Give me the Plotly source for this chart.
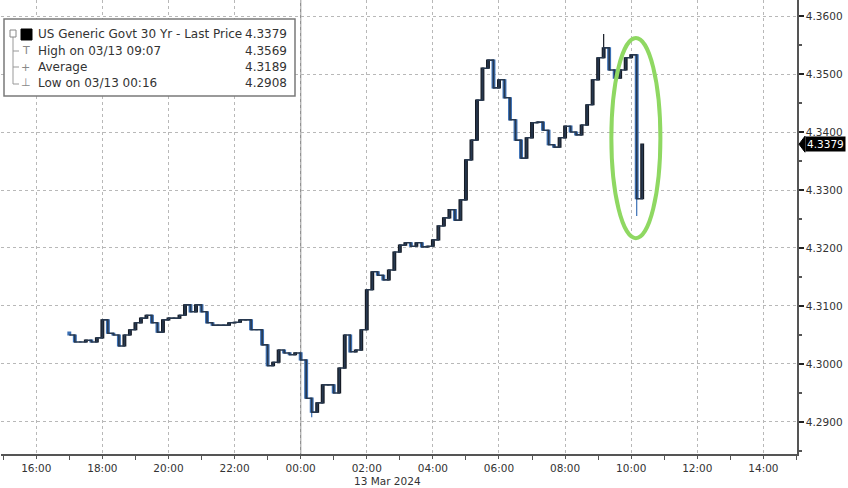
import pandas as pd
import plotly.graph_objects as go

# ---- data (10-minute bars, closing prices) ----
bar_start = "2024-03-12 17:00"
bar_end = "2024-03-13 10:20"
closes = [
    4.3050, 4.3038, 4.3038, 4.3041, 4.3038, 4.3045,
    4.3076, 4.3053, 4.3050, 4.3031, 4.3050, 4.3059,
    4.3071, 4.3079, 4.3084, 4.3071, 4.3055, 4.3076,
    4.3079, 4.3079, 4.3084, 4.3102, 4.3090, 4.3102,
    4.3090, 4.3071, 4.3067, 4.3067, 4.3067, 4.3071,
    4.3072, 4.3076, 4.3076, 4.3059, 4.3059, 4.3033,
    4.2997, 4.3003, 4.3024, 4.3019, 4.3016, 4.3019,
    4.3007, 4.2941, 4.2917, 4.2933, 4.2964, 4.2964,
    4.2950, 4.2993, 4.3050, 4.3021, 4.3024, 4.3059,
    4.3128, 4.3159, 4.3153, 4.3145, 4.3162, 4.3193,
    4.3205, 4.3209, 4.3203, 4.3209, 4.3202, 4.3203,
    4.3214, 4.3238, 4.3252, 4.3266, 4.3248, 4.3283,
    4.3352, 4.3386, 4.3455, 4.3510, 4.3524, 4.3476,
    4.3490, 4.3459, 4.3421, 4.3386, 4.3355, 4.3390,
    4.3416, 4.3417, 4.3403, 4.3378, 4.3374, 4.3390,
    4.3410, 4.3400, 4.3395, 4.3412, 4.3447, 4.3490,
    4.3528, 4.3545, 4.3507, 4.3493, 4.3507, 4.3528,
    4.3533, 4.3285, 4.3379,
]
first_open = 4.3055
extreme_times = ["2024-03-13 00:20", "2024-03-13 09:10", "2024-03-13 10:10"]
extreme_highs = [None, 4.3569, None]
extreme_lows = [4.2908, None, 4.3255]

legend_labels = ["US Generic Govt 30 Yr - Last Price", "High on 03/13 09:07", "Average", "Low on 03/13 00:16"]
legend_values = ["4.3379", "4.3569", "4.3189", "4.2908"]
last_price = 4.3379
date_label = "13 Mar 2024"

# ---- bars ----
times = pd.date_range(bar_start, bar_end, freq="10min")
assert len(times) == len(closes)
opens = [first_open] + closes[:-1]
highs = [max(o, c) for o, c in zip(opens, closes)]
lows = [min(o, c) for o, c in zip(opens, closes)]
for t, hi, lo in zip(extreme_times, extreme_highs, extreme_lows):
    i = list(times).index(pd.Timestamp(t))
    if hi is not None:
        highs[i] = hi
    if lo is not None:
        lows[i] = lo

# ---- layout helpers (pixel -> paper) ----
W, H = 848, 488
ML, MR, MT, MB = 1, 51, 0, 34
PW, PH = W - ML - MR, H - MT - MB


def pxx(x):
    return (x - ML) / PW


def pxy(y):
    return (H - MB - y) / PH


FONT = "DejaVu Sans"
TXT = "#333333"

fig = go.Figure()
# continuous trace (step from bar to bar)
fig.add_trace(go.Scatter(
    x=times, y=closes, mode="lines", line_shape="hv",
    line=dict(color="#27384f", width=1.6), showlegend=False, hoverinfo="skip",
))
fig.add_trace(go.Candlestick(
    x=times, open=opens, high=highs, low=lows, close=closes,
    increasing=dict(line=dict(color="#161c26", width=1.2), fillcolor="#161c26"),
    decreasing=dict(line=dict(color="#3b70b5", width=1.2), fillcolor="#3b70b5"),
    whiskerwidth=0, showlegend=False, hoverinfo="skip",
))

shapes = []
shapes.append(dict(type="line", xref="x", yref="paper", x0="2024-03-13 00:00", x1="2024-03-13 00:00",
                   y0=0, y1=1, line=dict(color="#8a8a8a", width=1.2), layer="below"))
shapes.append(dict(type="circle", xref="x", yref="y", x0="2024-03-13 09:24", x1="2024-03-13 10:53",
                   y0=4.3217, y1=4.3562, line=dict(color="#8fd862", width=4)))
shapes.append(dict(type="rect", xref="paper", yref="paper", x0=pxx(4), x1=pxx(295), y0=pxy(96), y1=pxy(19),
                   line=dict(color="#7a7a7a", width=1.5), fillcolor="white", layer="above"))
shapes.append(dict(type="line", xref="paper", yref="paper", x0=pxx(13), x1=pxx(13), y0=pxy(84), y1=pxy(33),
                   line=dict(color="#999999", width=1)))
for yy in [51, 67, 84]:
    shapes.append(dict(type="line", xref="paper", yref="paper", x0=pxx(13), x1=pxx(19), y0=pxy(yy), y1=pxy(yy),
                       line=dict(color="#999999", width=1)))
shapes.append(dict(type="rect", xref="paper", yref="paper", x0=pxx(10), x1=pxx(16), y0=pxy(37), y1=pxy(30),
                   line=dict(color="#888888", width=1), fillcolor="white"))
shapes.append(dict(type="rect", xref="paper", yref="paper", x0=pxx(21), x1=pxx(32), y0=pxy(40), y1=pxy(29),
                   line=dict(color="black", width=1), fillcolor="black"))
shapes.append(dict(type="path", xref="paper", yref="y", xsizemode="pixel", ysizemode="pixel",
                   xanchor=1, yanchor=last_price, path="M 2,0 L 8,8 L 8,-8 Z",
                   fillcolor="black", line=dict(color="black", width=1)))

annotations = []
rows_y = [34, 51, 67, 83]
icons = ["", "T", "+", "\u22a5"]
for i, (lab, val) in enumerate(zip(legend_labels, legend_values)):
    annotations.append(dict(xref="paper", yref="paper", x=pxx(36), y=pxy(rows_y[i]), text=lab, showarrow=False,
                            xanchor="left", yanchor="middle", font=dict(family=FONT, size=12, color=TXT)))
    annotations.append(dict(xref="paper", yref="paper", x=pxx(289), y=pxy(rows_y[i]), text=val, showarrow=False,
                            xanchor="right", yanchor="middle", font=dict(family=FONT, size=12, color=TXT)))
    if icons[i]:
        annotations.append(dict(xref="paper", yref="paper", x=pxx(26), y=pxy(rows_y[i]), text=icons[i],
                                showarrow=False, xanchor="center", yanchor="middle",
                                font=dict(family=FONT, size=11, color="#888888")))
annotations.append(dict(xref="paper", yref="y", x=1, y=last_price, xshift=8, text=f"{last_price:.4f}",
                        showarrow=False, xanchor="left", yanchor="middle", bgcolor="black", borderpad=1,
                        font=dict(family=FONT, size=10.5, color="white")))
annotations.append(dict(xref="x", yref="paper", x="2024-03-13 02:38", y=pxy(481), text=date_label,
                        showarrow=False, xanchor="center", yanchor="middle",
                        font=dict(family=FONT, size=10.5, color=TXT)))

fig.update_layout(
    width=W, height=H, margin=dict(l=ML, r=MR, t=MT, b=MB, autoexpand=False),
    paper_bgcolor="white", plot_bgcolor="white",
    shapes=shapes, annotations=annotations, showlegend=False,
    font=dict(family=FONT, size=11, color=TXT),
    xaxis=dict(
        type="date", range=["2024-03-12 14:56", "2024-03-13 15:01"],
        rangeslider=dict(visible=False),
        tick0="2024-03-12 16:00", dtick=7200000, tickformat="%H:%M",
        showgrid=True, gridcolor="#b8b8b8", griddash="dot", gridwidth=1,
        showline=True, linecolor="#555555", linewidth=2,
        ticks="outside", ticklen=3, tickcolor="#555555",
        minor=dict(dtick=3600000, tick0="2024-03-12 15:00", ticks="outside", ticklen=4, tickcolor="#555555", showgrid=False),
        tickfont=dict(family=FONT, size=10.5, color=TXT), zeroline=False,
    ),
    yaxis=dict(
        side="right", range=[4.28448, 4.36276], dtick=0.01, tick0=4.29, tickformat=".4f",
        showgrid=True, gridcolor="#b8b8b8", griddash="dot", gridwidth=1,
        showline=True, linecolor="#555555", linewidth=1.5,
        ticks="outside", ticklen=5, tickwidth=2, tickcolor="#222222",
        minor=dict(dtick=0.005, ticks="outside", ticklen=3, tickcolor="#555555", showgrid=False),
        tickfont=dict(family=FONT, size=10.5, color=TXT), zeroline=False,
    ),
)

fig.write_html("out.html", config={"displayModeBar": False},
               post_script="document.body.style.margin='0px';document.body.style.padding='0px';")
